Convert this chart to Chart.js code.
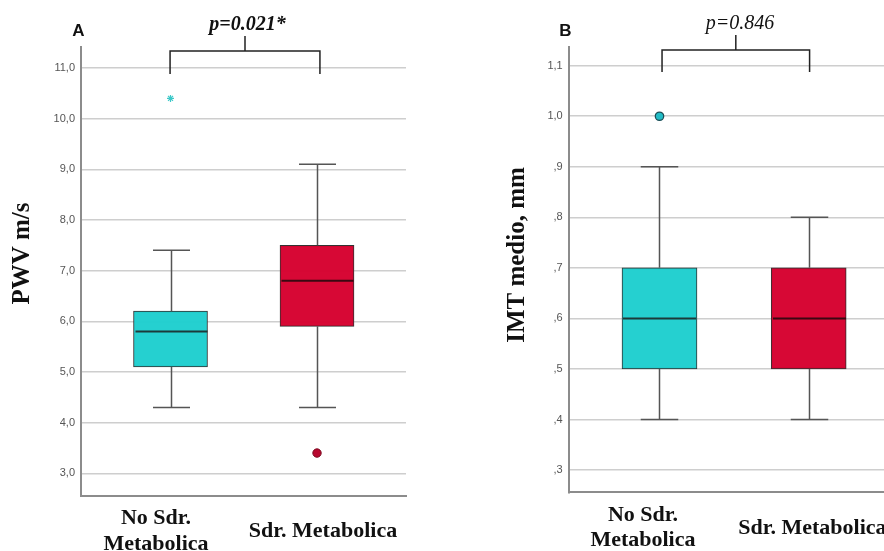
<!DOCTYPE html>
<html><head><meta charset="utf-8">
<script src="https://cdn.jsdelivr.net/npm/chart.js@4.4.1/dist/chart.umd.min.js"></script>
<style>
html,body{margin:0;padding:0;background:#fff;overflow:hidden;width:884px;height:551px}
#wrap{position:relative;width:884px;height:551px;overflow:hidden;background:#fff}
#cA{position:absolute;left:0;top:0}
#cB{position:absolute;left:442px;top:0}
</style></head><body>
<div id="wrap"><canvas id="cA" width="442" height="551"></canvas><canvas id="cB" width="500" height="551"></canvas></div>
<script>
// ---- data ----
const categories = [["No Sdr.", "Metabolica"], "Sdr. Metabolica"];
const groupPos = [1, 2];

// Panel A: PWV m/s
const pwvMin = [4.3, 4.3];
const pwvQ1 = [5.1, 5.9];
const pwvMedian = [5.8, 6.8];
const pwvQ3 = [6.2, 7.5];
const pwvMax = [7.4, 9.1];
const pwvExtremeNoSdr = [10.4];
const pwvOutlierSdr = [3.4];
const pwvTicks = [3, 4, 5, 6, 7, 8, 9, 10, 11];

// Panel B: IMT medio, mm
const imtMin = [0.4, 0.4];
const imtQ1 = [0.5, 0.5];
const imtMedian = [0.6, 0.6];
const imtQ3 = [0.7, 0.7];
const imtMax = [0.9, 0.8];
const imtOutlierNoSdr = [1.0];
const imtTicks = [0.3, 0.4, 0.5, 0.6, 0.7, 0.8, 0.9, 1.0, 1.1];

const boxFill = ['rgba(30,206,206,0.97)', 'rgba(214,0,46,0.97)'];
const SERIF = '"Liberation Serif", "Times New Roman", serif';
const SANS = '"Liberation Sans", Arial, sans-serif';

function boxPlugin(st) {
  return {
    id: 'boxWhisk',
    afterDatasetsDraw(chart) {
      const {ctx, scales: {x, y}} = chart;
      const bars = chart.getDatasetMeta(0).data;
      ctx.save();
      for (let i = 0; i < groupPos.length; i++) {
        const cx = Math.round(x.getPixelForValue(groupPos[i])) + 0.5;
        const w = bars[i].width;
        const cap = w / 2;
        ctx.strokeStyle = '#555';
        ctx.lineWidth = 1.5;
        ctx.beginPath();
        ctx.moveTo(cx, y.getPixelForValue(st.q3[i])); ctx.lineTo(cx, y.getPixelForValue(st.max[i]));
        ctx.moveTo(cx, y.getPixelForValue(st.q1[i])); ctx.lineTo(cx, y.getPixelForValue(st.min[i]));
        ctx.moveTo(cx - cap / 2, y.getPixelForValue(st.max[i])); ctx.lineTo(cx + cap / 2, y.getPixelForValue(st.max[i]));
        ctx.moveTo(cx - cap / 2, y.getPixelForValue(st.min[i])); ctx.lineTo(cx + cap / 2, y.getPixelForValue(st.min[i]));
        ctx.stroke();
        ctx.strokeStyle = i === 0 ? '#1c3a3a' : '#3a0812';
        ctx.lineWidth = 2;
        ctx.beginPath();
        const my = y.getPixelForValue(st.med[i]);
        ctx.moveTo(cx - w / 2 + 1, my); ctx.lineTo(cx + w / 2 - 1, my);
        ctx.stroke();
      }
      ctx.restore();
    }
  };
}

const decorPlugin = {
  id: 'decor',
  afterDraw(chart, args, o) {
    const {ctx, scales: {x}} = chart;
    ctx.save();
    ctx.fillStyle = '#111';
    ctx.font = 'bold 17px ' + SANS;
    ctx.textAlign = 'center';
    ctx.textBaseline = 'middle';
    ctx.fillText(o.letter, o.letterX, o.letterY);
    ctx.font = o.pFont;
    ctx.textBaseline = 'alphabetic';
    ctx.fillText(o.pText, o.pX, o.pY);
    const x1 = x.getPixelForValue(o.bracketX[0]);
    const x2 = x.getPixelForValue(o.bracketX[1]);
    const xm = (x1 + x2) / 2;
    ctx.strokeStyle = '#222';
    ctx.lineWidth = 1.5;
    ctx.beginPath();
    ctx.moveTo(x1, o.legBottom); ctx.lineTo(x1, o.bracketY); ctx.lineTo(x2, o.bracketY); ctx.lineTo(x2, o.legBottom);
    ctx.moveTo(xm, o.bracketY); ctx.lineTo(xm, o.tickTop);
    ctx.stroke();
    ctx.translate(o.titleX, o.titleY);
    ctx.rotate(-Math.PI / 2);
    ctx.font = 'bold 25px ' + SERIF;
    ctx.textAlign = 'center';
    ctx.textBaseline = 'middle';
    ctx.fillText(o.yTitle, 0, 0);
    ctx.restore();
  }
};

function makeChart(el, c) {
  return new Chart(el, {
    data: {
      datasets: [
        {
          type: 'bar',
          data: groupPos.map((gx, i) => ({x: gx, y: [c.st.q1[i], c.st.q3[i]]})),
          backgroundColor: boxFill,
          borderColor: '#333',
          borderWidth: 1,
          borderSkipped: false,
          barThickness: c.barW,
          order: 2
        },
        ...c.points
      ]
    },
    options: {
      responsive: false,
      animation: false,
      devicePixelRatio: 1,
      layout: {padding: {top: 47, right: c.padRight, left: 0, bottom: 0}},
      plugins: {legend: {display: false}, tooltip: {enabled: false}, decor: c.decor},
      scales: {
        x: {
          type: 'linear', min: c.xMin, max: c.xMax, offset: false,
          grid: {display: false, drawTicks: false},
          border: {display: true, color: '#8c8c8c', width: 2},
          afterBuildTicks: s => { s.ticks = c.labelPos.map(v => ({value: v})); },
          afterFit: s => { s.height = c.xHeight; },
          ticks: {
            callback: (v, i) => categories[i],
            autoSkip: false, maxRotation: 0, minRotation: 0,
            crossAlign: 'center', padding: c.xPad, color: '#111',
            font: {family: SERIF, size: 22, weight: 'bold', lineHeight: 1.15}
          }
        },
        y: {
          type: 'linear', min: c.yMin, max: c.yMax, beginAtZero: false,
          afterBuildTicks: s => { s.ticks = c.yTicks.map(v => ({value: v})); },
          afterFit: s => { s.width = c.yWidth; },
          grid: {color: '#cecece', lineWidth: 1.5, drawTicks: false},
          border: {display: true, color: '#8c8c8c', width: 2},
          ticks: {padding: 6, color: '#555', font: {family: SANS, size: 11}, callback: c.fmt}
        }
      }
    },
    plugins: [boxPlugin(c.st), decorPlugin]
  });
}

makeChart(document.getElementById('cA'), {
  st: {min: pwvMin, q1: pwvQ1, med: pwvMedian, q3: pwvQ3, max: pwvMax},
  barW: 74, padRight: 36, xMin: 0.389, xMax: 2.6075, labelPos: [0.901, 2.041],
  xHeight: 55.3, xPad: 23, yMin: 2.558, yMax: 11.414, yTicks: pwvTicks, yWidth: 81,
  fmt: v => v.toFixed(1).replace('.', ','),
  points: [
    {type: 'scatter', data: pwvExtremeNoSdr.map(v => ({x: 1, y: v})), pointStyle: 'star', pointRadius: 3.5,
     borderColor: '#3cc8c8', backgroundColor: '#3cc8c8', borderWidth: 1.2, order: 1},
    {type: 'scatter', data: pwvOutlierSdr.map(v => ({x: 2, y: v})), pointStyle: 'circle', pointRadius: 4.2,
     borderColor: '#7a0a20', backgroundColor: '#b8082f', borderWidth: 1, order: 1}
  ],
  decor: {letter: 'A', letterX: 78.5, letterY: 31, pText: 'p=0.021*', pFont: 'bold italic 20px ' + SERIF,
          pX: 247.5, pY: 30, bracketX: [0.997, 2.02], bracketY: 51, legBottom: 74, tickTop: 36,
          yTitle: 'PWV m/s', titleX: 22.5, titleY: 253.5}
});

makeChart(document.getElementById('cB'), {
  st: {min: imtMin, q1: imtQ1, med: imtMedian, q3: imtQ3, max: imtMax},
  barW: 75, padRight: 42.3, xMin: 0.3914, xMax: 2.61, labelPos: [0.889, 2.025],
  xHeight: 58.7, xPad: 23, yMin: 0.2559, yMax: 1.137, yTicks: imtTicks, yWidth: 126.7,
  fmt: v => v.toFixed(1).replace('.', ',').replace(/^0/, ''),
  points: [
    {type: 'scatter', data: imtOutlierNoSdr.map(v => ({x: 1, y: v})), pointStyle: 'circle', pointRadius: 4.2,
     borderColor: '#1d4f57', backgroundColor: '#22bcc6', borderWidth: 1.3, order: 1}
  ],
  decor: {letter: 'B', letterX: 123.5, letterY: 31, pText: 'p=0.846', pFont: 'italic 20px ' + SERIF,
          pX: 298, pY: 29, bracketX: [1.017, 2.006], bracketY: 50, legBottom: 72, tickTop: 35,
          yTitle: 'IMT medio, mm', titleX: 76, titleY: 255}
});
</script>
</body></html>
